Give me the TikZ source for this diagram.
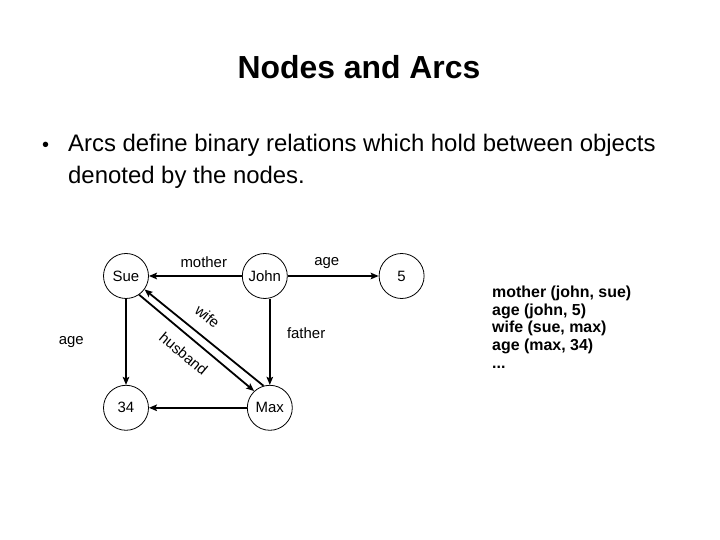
\documentclass[tikz,border=0pt]{standalone}
\usepackage{fontspec}
\setmainfont{Liberation Sans}
\usetikzlibrary{positioning,arrows.meta}

\begin{document}
\begin{tikzpicture}[
    x=1bp, y=1bp,
    node distance=93bp,  % gap between the circles
    main/.style = {draw, circle, line width=0.8bp, minimum size=45bp, inner sep=0pt, font=\fontsize{15}{18}\selectfont},
    lbl/.style = {font=\fontsize{15}{18}\selectfont},
    arc/.style = {->, line width=1.8bp},
    >={Stealth[length=8bp, width=6.5bp, inset=1.5bp]}
  ]
    \useasboundingbox (0,0) rectangle (720,540);

    \node (title) at (359,473) {\fontsize{32}{38}\selectfont\bfseries Nodes and Arcs};
    \node[anchor=base] (dot) at (45.5,388.5) {\fontsize{20}{24}\selectfont •};
    \node[anchor=base west, align=left, inner sep=0pt, font=\fontsize{24}{31.6}\selectfont] (intro) at (68,356.7)   % base = last line
      {Arcs define binary relations which hold between objects\\denoted by the nodes.};

    \node[main] (Sue) at (126,264) {Sue};
    \node[main] (John) [right=of Sue] {John};
    \node[main] (five) [right=91bp of John] {5};
    \node[main] (n34) [below=86bp of Sue] {34};
    \node[main] (Max) [below=86bp of John, xshift=5bp] {Max};   % Max sits a bit right of John

    \draw[arc] (John) -- node[lbl, above=4bp, pos=0.41] {mother} (Sue);
    \draw[arc] (John) -- node[lbl, above=3bp, pos=0.43] {age} (five);
    \draw[arc] (John.south -| Max) -- node[lbl, right=13bp, pos=0.4] {father} (Max);
    \draw[arc] (Sue) -- node[lbl, left=38bp] {age} (n34);
    \draw[arc] (Max) -- (n34);
    % the two arcs between Sue and Max:
    \draw[arc] (Max.106) -- node[lbl, sloped, above=9bp, pos=0.57] {wife} (Sue.-36);
    \draw[arc] (Sue.-55) -- node[lbl, sloped, below=7bp, pos=0.48] {husband} (Max.133);

    \node[anchor=north west, align=left, inner sep=0pt, font=\fontsize{16}{17.7}\selectfont\bfseries] (facts) at (492,254.2)
      {mother (john, sue)\\age (john, 5)\\wife (sue, max)\\age (max, 34)\\...};
  \end{tikzpicture}
\end{document}
